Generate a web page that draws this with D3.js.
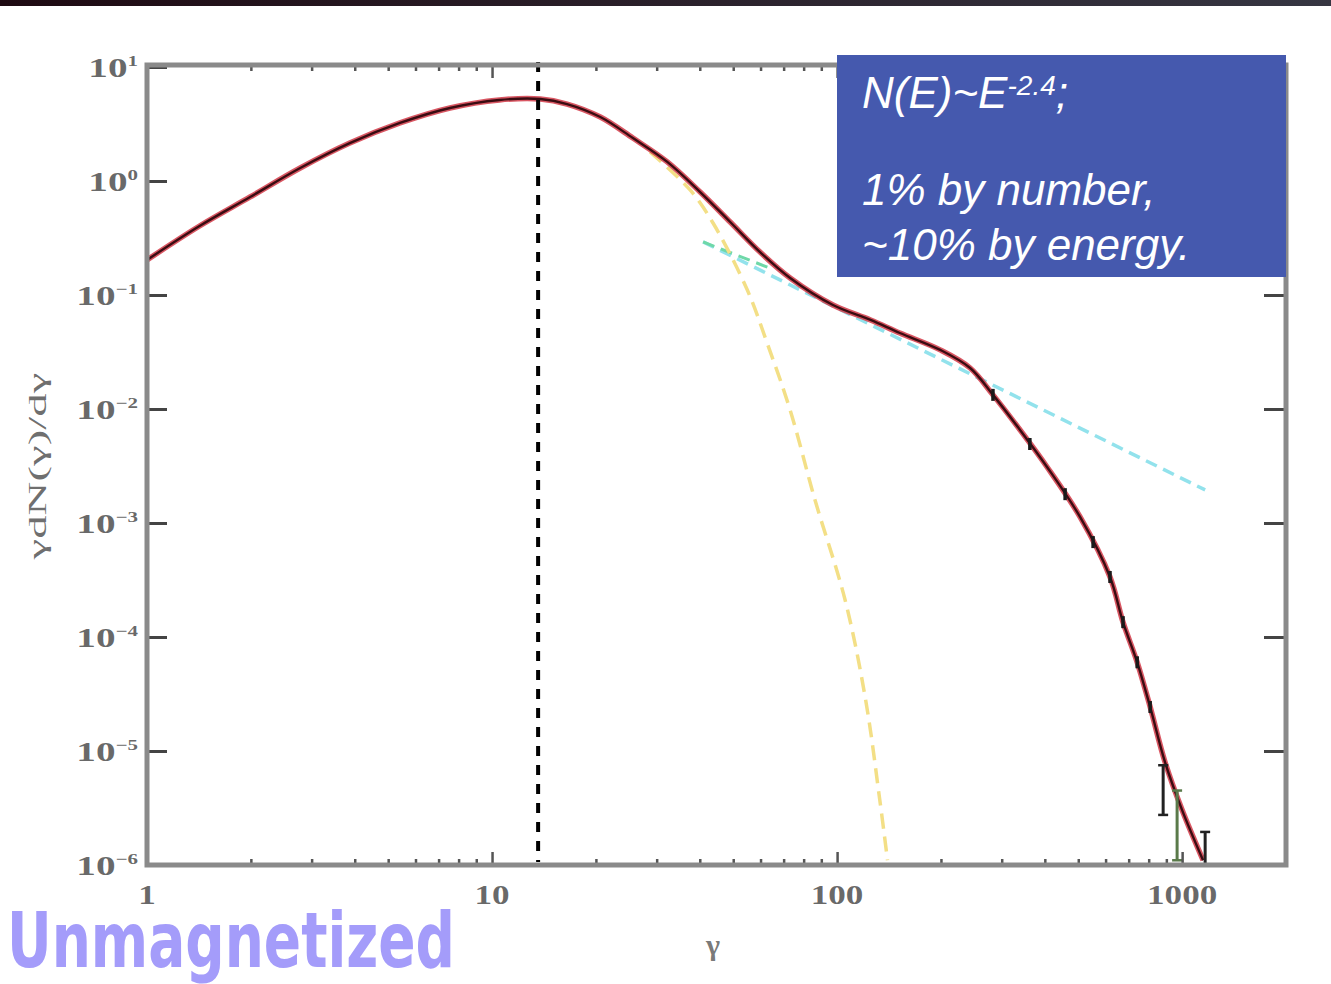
<!DOCTYPE html>
<html><head><meta charset="utf-8">
<script src="https://cdn.jsdelivr.net/npm/d3@7"></script>
<style>body{margin:0;background:#fff;} svg{display:block;}</style>
</head><body>
<svg id="c" width="1331" height="984"></svg>
<script>
// ---- data ----
const spectrumGamma = [1, 1.42, 1.99, 2.78, 3.87, 5.41, 7.55, 10.5, 13.8, 16.5, 20.6, 25.6, 32.2, 40.1, 49.0, 59.8, 73.1, 97.3, 125, 152, 199, 243, 283, 339, 406, 506, 618, 674, 741, 808, 892, 1000, 1150];
const spectrumValue = [0.203, 0.403, 0.724, 1.30, 2.15, 3.23, 4.37, 5.14, 5.24, 4.73, 3.64, 2.38, 1.47, 0.80, 0.437, 0.238, 0.141, 0.0817, 0.0604, 0.0464, 0.033, 0.0229, 0.0133, 0.00655, 0.0031, 0.00113, 3.36e-4, 1.35e-4, 6.0e-5, 2.43e-5, 8.0e-6, 3.03e-6, 1.1e-6];
const maxwellGamma = [28.7, 37.5, 43.7, 54.9, 62.7, 73.1, 86.3, 105.5, 121, 133, 140];
const maxwellValue = [1.80, 0.834, 0.428, 0.111, 0.0379, 0.0098, 1.59e-3, 2.11e-4, 2.8e-5, 3.7e-6, 1.1e-6];
const powerGamma = [40.9, 1166];
const powerValue = [0.292, 1.95e-3];
const greenGamma = [40.9, 63.9];
const greenValue = [0.292, 0.172];
const markerGamma = [283, 362, 458, 552, 618, 674, 741, 808];
const markerValue = [0.0133, 0.00493, 0.00179, 6.8e-4, 3.36e-4, 1.35e-4, 6.0e-5, 2.43e-5];
const errGamma = [881, 967, 1166];
const errLow = [2.75e-6, 1.1e-6, 1e-6];
const errHigh = [7.5e-6, 4.5e-6, 1.95e-6];
const errColor = ["#222", "#5a7a4a", "#222"];
const peakLineGamma = 13.6;
const xTickValues = [1, 10, 100, 1000];
const xTickLabels = ["1", "10", "100", "1000"];
const yTickExponents = [1, 0, -1, -2, -3, -4, -5, -6];
const boxLines = ["1% by number,", "~10% by energy."];

// ---- layout ----
const svg = d3.select("#c");
const L = 147, T = 65, W = 1139, H = 800;
const x = d3.scaleLog().domain([1, 2000]).range([L, L + W]);
const y = d3.scaleLog().domain([1e-6, Math.pow(10, 1.0175)]).range([T + H, T]);

// top dark band
const defs = svg.append("defs");
const gr = defs.append("linearGradient").attr("id", "band");
gr.append("stop").attr("offset", "0").attr("stop-color", "#1e0a12");
gr.append("stop").attr("offset", "1").attr("stop-color", "#363642");
svg.append("rect").attr("x", 0).attr("y", 0).attr("width", 1331).attr("height", 6).attr("fill", "url(#band)");

const line = d3.line().x(d => x(d[0])).y(d => y(d[1])).curve(d3.curveCatmullRom.alpha(0.5));
const zip = (a, b) => a.map((v, i) => [v, b[i]]);

// power-law (cyan dashed)
svg.append("path").attr("d", line(zip(powerGamma, powerValue)))
  .attr("fill", "none").attr("stroke", "#92e2ec").attr("stroke-width", 3.5).attr("stroke-dasharray", "12,7");
svg.append("path").attr("d", line(zip(greenGamma, greenValue)))
  .attr("fill", "none").attr("stroke", "#6fd8a8").attr("stroke-width", 3).attr("stroke-dasharray", "12,7");
// Maxwellian (yellow dashed)
svg.append("path").attr("d", line(zip(maxwellGamma, maxwellValue)))
  .attr("fill", "none").attr("stroke", "#f3df86").attr("stroke-width", 3.5).attr("stroke-dasharray", "15,8");

// main spectrum
const spec = zip(spectrumGamma, spectrumValue);
svg.append("path").attr("d", line(spec)).attr("fill", "none")
  .attr("stroke", "#d23a48").attr("stroke-width", 5.5).attr("stroke-opacity", 0.85);
svg.append("path").attr("d", line(spec)).attr("fill", "none")
  .attr("stroke", "#3a0c12").attr("stroke-width", 2.4);

// markers with small error bars
svg.selectAll(".mk").data(zip(markerGamma, markerValue)).join("line")
  .attr("x1", d => x(d[0])).attr("x2", d => x(d[0]))
  .attr("y1", d => y(d[1]) - 6).attr("y2", d => y(d[1]) + 6)
  .attr("stroke", "#1a1a1a").attr("stroke-width", 3.5);
errGamma.forEach((g, i) => {
  const gx = x(g), y1 = y(errHigh[i]), y2 = y(errLow[i]);
  svg.append("line").attr("x1", gx).attr("x2", gx).attr("y1", y1).attr("y2", y2).attr("stroke", errColor[i]).attr("stroke-width", 3);
  svg.append("line").attr("x1", gx - 5).attr("x2", gx + 5).attr("y1", y1).attr("y2", y1).attr("stroke", errColor[i]).attr("stroke-width", 2.5);
  svg.append("line").attr("x1", gx - 5).attr("x2", gx + 5).attr("y1", y2).attr("y2", y2).attr("stroke", errColor[i]).attr("stroke-width", 2.5);
});

// vertical dashed line
svg.append("line").attr("x1", x(peakLineGamma)).attr("x2", x(peakLineGamma))
  .attr("y1", T - 3).attr("y2", T + H - 3)
  .attr("stroke", "#000").attr("stroke-width", 4).attr("stroke-dasharray", "10,9");

// ticks
const minorX = [];
for (let dec = 1; dec <= 1000; dec *= 10) for (let m = 2; m <= 9; m++) if (dec * m <= 2000) minorX.push(dec * m);
const majorX = [10, 100, 1000];
function xTicks(vals, len) {
  svg.append("g").attr("transform", `translate(0,${T + H})`)
    .call(d3.axisBottom(x).tickValues(vals).tickSize(-len).tickFormat(""))
    .call(g => { g.select(".domain").remove(); g.selectAll("line").attr("stroke", "#555").attr("stroke-width", 2.5); });
  svg.append("g").attr("transform", `translate(0,${T})`)
    .call(d3.axisTop(x).tickValues(vals).tickSize(-len).tickFormat(""))
    .call(g => { g.select(".domain").remove(); g.selectAll("line").attr("stroke", "#555").attr("stroke-width", 2.5); });
}
xTicks(minorX, 6);
xTicks(majorX, 13);
const yMajor = yTickExponents.map(e => Math.pow(10, e));
svg.append("g").attr("transform", `translate(${L},0)`)
  .call(d3.axisLeft(y).tickValues(yMajor).tickSize(-20).tickFormat(""))
  .call(g => { g.select(".domain").remove(); g.selectAll("line").attr("stroke", "#444").attr("stroke-width", 3); });
svg.append("g").attr("transform", `translate(${L + W},0)`)
  .call(d3.axisRight(y).tickValues(yMajor).tickSize(-22).tickFormat(""))
  .call(g => { g.select(".domain").remove(); g.selectAll("line").attr("stroke", "#444").attr("stroke-width", 3); });

// frame
svg.append("rect").attr("x", L).attr("y", T).attr("width", W).attr("height", H)
  .attr("fill", "none").attr("stroke", "#8a8a8a").attr("stroke-width", 5);

// tick labels
const lab = "#4e4e4e";
xTickValues.forEach((v, i) => {
  svg.append("g").attr("transform", `translate(${x(v)},${T + H + 39}) scale(1.3,1)`)
    .append("text").attr("text-anchor", "middle").attr("font-family", "Liberation Serif, serif")
    .attr("font-weight", "bold").attr("font-size", 27).attr("fill", lab).attr("fill-opacity", 0.85)
    .text(xTickLabels[i]);
});
yTickExponents.forEach(e => {
  const t = svg.append("g").attr("transform", `translate(138,${y(Math.pow(10, e)) + 10}) scale(1.4,1)`)
    .append("text").attr("text-anchor", "end").attr("font-family", "Liberation Serif, serif")
    .attr("font-weight", "bold").attr("font-size", 28).attr("fill", lab).attr("fill-opacity", 0.85);
  t.append("tspan").text("10");
  t.append("tspan").attr("dy", -11).attr("font-size", 15).text(e < 0 ? "\u2212" + (-e) : String(e));
});

// axis titles
svg.append("text").attr("transform", "translate(46,466) rotate(-90)")
  .attr("text-anchor", "middle").attr("font-family", "Liberation Serif, serif").attr("font-size", 26)
  .attr("fill", "#555").attr("fill-opacity", 0.85)
  .attr("textLength", 187).attr("lengthAdjust", "spacingAndGlyphs").text("\u03b3dN(\u03b3)/d\u03b3");
svg.append("text").attr("x", 713).attr("y", 955).attr("text-anchor", "middle")
  .attr("font-family", "Liberation Serif, serif").attr("font-weight", "bold").attr("font-size", 30)
  .attr("fill", "#555").attr("fill-opacity", 0.8).text("\u03b3");

// blue box
svg.append("rect").attr("x", 837).attr("y", 55).attr("width", 449).attr("height", 222).attr("fill", "#4559ae");
const t1 = svg.append("text").attr("x", 862).attr("y", 108).attr("font-family", "Liberation Sans, Arial, sans-serif")
  .attr("font-style", "italic").attr("font-size", 44).attr("fill", "#fff");
t1.append("tspan").text("N(E)~E");
t1.append("tspan").attr("dy", -13).attr("font-size", 28).text("-2.4");
t1.append("tspan").attr("dy", 13).text(";");
boxLines.forEach((s, i) => {
  svg.append("text").attr("x", 862).attr("y", 205 + i * 55).attr("font-family", "Liberation Sans, Arial, sans-serif")
    .attr("font-style", "italic").attr("font-size", 44).attr("fill", "#fff").text(s);
});

// bottom-left title
svg.append("text").attr("x", 7).attr("y", 967)
  .attr("font-family", "Liberation Sans Narrow, DejaVu Sans Condensed, Arial Narrow, sans-serif")
  .attr("font-weight", "bold").attr("font-size", 76).attr("fill", "#a49cfa")
  .attr("textLength", 448).attr("lengthAdjust", "spacingAndGlyphs").text("Unmagnetized");
</script>
</body></html>
